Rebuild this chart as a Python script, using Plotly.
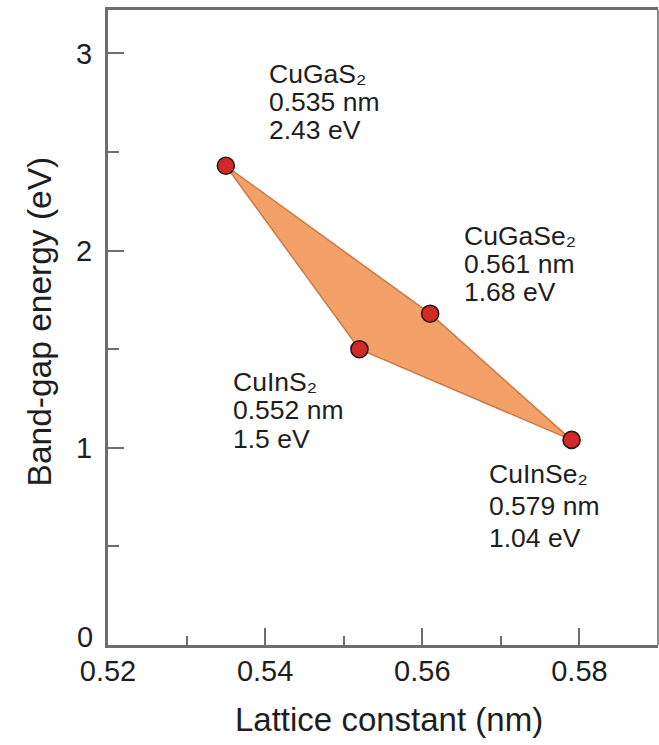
import plotly.graph_objects as go

# Chalcopyrite compounds: lattice constant (nm) vs band-gap energy (eV)
compounds = ["CuGaS₂", "CuGaSe₂", "CuInSe₂", "CuInS₂"]
lattice_nm = [0.535, 0.561, 0.579, 0.552]
bandgap_ev = [2.43, 1.68, 1.04, 1.5]
lattice_text = ["0.535", "0.561", "0.579", "0.552"]
bandgap_text = ["2.43", "1.68", "1.04", "1.5"]

# Label placement (paper coords of the left edge / first-line centre, and line step in px)
label_pos = [(0.291, 0.8992), (0.6455, 0.6442), (0.691, 0.2693), (0.2255, 0.4142)]
line_steps = [28, 28, 32, 28.5]

x_ticks = [0.52, 0.54, 0.56, 0.58]
y_ticks = [0, 1, 2, 3]

AXIS = "#6e6e6e"
TEXT = "#1e1e1e"
FONT = "Liberation Sans, Arial, sans-serif"

fig = go.Figure()

# Filled alloy region bounded by the four end-member compounds
fig.add_trace(go.Scatter(
    x=lattice_nm + [lattice_nm[0]],
    y=bandgap_ev + [bandgap_ev[0]],
    mode="lines",
    fill="toself",
    fillcolor="#F3A069",
    line=dict(color="#C97A45", width=1.5),
    hoverinfo="skip",
    showlegend=False,
))

fig.add_trace(go.Scatter(
    x=lattice_nm,
    y=bandgap_ev,
    mode="markers",
    marker=dict(size=17, color="#D42A27", line=dict(color="#2a1515", width=1.6)),
    showlegend=False,
))

annotations = []
for name, lt, bt, (px, py), step in zip(compounds, lattice_text, bandgap_text, label_pos, line_steps):
    for i, line in enumerate([name, f"{lt} nm", f"{bt} eV"]):
        annotations.append(dict(
            text=line, xref="paper", yref="paper", x=px, y=py,
            xanchor="left", yanchor="middle", yshift=-i * step, borderpad=0,
            showarrow=False, font=dict(size=26.5, color=TEXT, family=FONT),
        ))

# The origin label on the energy axis sits a little above its tick
annotations.append(dict(
    text=str(y_ticks[0]), xref="paper", yref="y", x=0, y=y_ticks[0],
    xanchor="right", yanchor="middle", xshift=-14, yshift=8, borderpad=0,
    showarrow=False, font=dict(size=29, color=TEXT, family=FONT),
))

annotations.append(dict(
    text="Band-gap energy (eV)", xref="paper", yref="paper",
    x=-0.125, y=0.51, xanchor="center", yanchor="middle", textangle=-90,
    showarrow=False, font=dict(size=33.5, color=TEXT, family=FONT),
))
annotations.append(dict(
    text="Lattice constant (nm)", xref="paper", yref="paper",
    x=0.511, y=-0.118, xanchor="center", yanchor="middle",
    showarrow=False, font=dict(size=33, color=TEXT, family=FONT),
))

fig.update_layout(
    width=659, height=745,
    margin=dict(l=108, r=1, t=10, b=100),
    paper_bgcolor="white", plot_bgcolor="white",
    font=dict(family=FONT, color=TEXT),
    annotations=annotations,
    showlegend=False,
)

fig.update_xaxes(
    range=[0.52, 0.59],
    tickvals=x_ticks, ticktext=[f"{v:.2f}" for v in x_ticks],
    ticks="inside", ticklen=17, tickwidth=2, tickcolor=AXIS,
    minor=dict(ticks="inside", ticklen=9, tickwidth=2, tickcolor=AXIS, dtick=0.01, tick0=0.52, showgrid=False),
    showline=True, linecolor=AXIS, linewidth=3, mirror=True,
    showgrid=False, zeroline=False,
    tickfont=dict(size=29, color=TEXT, family=FONT),
    ticklabelstandoff=-2,
)
fig.update_yaxes(
    range=[0, 3.22],
    tickvals=y_ticks, ticktext=[""] + [str(v) for v in y_ticks[1:]],
    ticks="inside", ticklen=16, tickwidth=2, tickcolor=AXIS,
    minor=dict(ticks="inside", ticklen=11, tickwidth=2, tickcolor=AXIS, dtick=0.5, tick0=0, showgrid=False),
    showline=True, linecolor=AXIS, linewidth=3, mirror=False,
    showgrid=False, zeroline=False,
    tickfont=dict(size=29, color=TEXT, family=FONT),
    ticklabelstandoff=7,
)

# Thin right-hand frame edge
fig.add_shape(type="line", xref="paper", yref="paper", x0=1, x1=1, y0=0, y1=1,
              line=dict(color="#8a8a8a", width=2))

fig.write_html("out.html")
